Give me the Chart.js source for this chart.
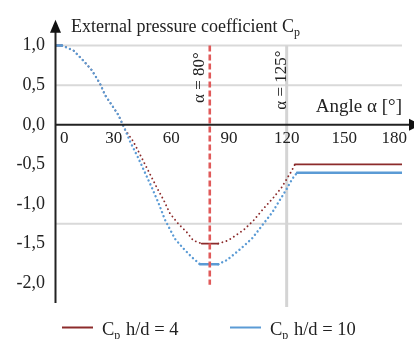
<!DOCTYPE html>
<html><head><meta charset="utf-8">
<script src="https://cdn.jsdelivr.net/npm/chart.js@4.4.0/dist/chart.umd.min.js"></script>
<style>html,body{margin:0;padding:0;background:#fff}canvas{display:block}</style>
</head><body>
<canvas id="c" width="414" height="339"></canvas>
<script>
// ---- data ----
const anglesHd4 = [0, 3.1, 9.0, 14.2, 18.6, 22.9, 25.5, 29.0, 32.4, 35.9, 40.2, 43.7, 48.0, 52.4, 56.2, 59.3, 63.6, 68.0, 71.4, 75.8, 84.4, 89.6, 94.8, 97.5, 102.7, 107.9, 113.1, 117.4, 120.9, 122.6, 124.3, 180];
const cpHd4     = [1.0, 1.0, 0.94, 0.81, 0.69, 0.52, 0.375, 0.25, 0.125, -0.06, -0.21, -0.375, -0.58, -0.79, -0.96, -1.12, -1.25, -1.355, -1.46, -1.50, -1.50, -1.46, -1.375, -1.33, -1.21, -1.06, -0.92, -0.79, -0.65, -0.58, -0.50, -0.50];
const anglesHd10 = [0, 3.1, 9.0, 14.2, 18.6, 22.9, 25.5, 29.0, 32.4, 35.9, 38.5, 42.8, 46.3, 49.8, 53.2, 56.7, 61.9, 66.2, 70.6, 74.9, 84.4, 88.8, 93.1, 96.8, 102.2, 108.2, 112.4, 115.7, 120.0, 123.0, 125.4, 180];
const cpHd10     = [1.0, 1.0, 0.94, 0.81, 0.69, 0.52, 0.375, 0.25, 0.125, -0.06, -0.21, -0.42, -0.605, -0.79, -0.98, -1.20, -1.44, -1.56, -1.67, -1.76, -1.76, -1.71, -1.625, -1.55, -1.43, -1.24, -1.11, -0.98, -0.81, -0.68, -0.605, -0.605];
const seriesNames = ['h/d = 4', 'h/d = 10'];
const yTickValues = [1, 0.5, 0, -0.5, -1, -1.5, -2];
const yTickLabels = ['1,0', '0,5', '0,0', '-0,5', '-1,0', '-1,5', '-2,0'];
const xTickValues = [0, 30, 60, 90, 120, 150, 180];
const xTickLabels = ['0', '30', '60', '90', '120', '150', '180'];
const gridValues = [1, 0.5, -1.25];
const markerAngles = [80, 120];
const markerLabels = ['α = 80°', 'α = 125°'];

const RED = '#8c2b2b', BLUE = '#5b9bd5';
const SERIF = '"Liberation Serif", "Times New Roman", serif';

function segDash(c) { return c.p0.parsed.y === c.p1.parsed.y ? [] : [0.01, 4.3]; }

function drawSubText(ctx, x, y, main, sub, rest, size) {
  ctx.font = size + 'px ' + SERIF;
  ctx.fillText(main, x, y);
  let w = ctx.measureText(main).width;
  ctx.font = Math.round(size * 0.65) + 'px ' + SERIF;
  ctx.fillText(sub, x + w, y + 4);
  w += ctx.measureText(sub).width;
  if (rest) { ctx.font = size + 'px ' + SERIF; ctx.fillText(rest, x + w + 1, y); }
}

const decor = {
  id: 'decor',
  beforeDatasetsDraw(chart) {
    const {ctx, chartArea: a, scales: {x, y}} = chart;
    ctx.save();
    ctx.strokeStyle = '#d9d9d9'; ctx.lineWidth = 2;
    gridValues.forEach(v => {
      const py = y.getPixelForValue(v);
      ctx.beginPath(); ctx.moveTo(a.left, py); ctx.lineTo(a.right, py); ctx.stroke();
    });
    const gx = x.getPixelForValue(markerAngles[1]);
    ctx.strokeStyle = '#d4d4d4'; ctx.lineWidth = 3;
    ctx.beginPath(); ctx.moveTo(gx, y.getPixelForValue(1)); ctx.lineTo(gx, y.getPixelForValue(-2.3)); ctx.stroke();
    ctx.restore();
  },
  afterDatasetsDraw(chart) {
    const {ctx, chartArea: a, scales: {x, y}} = chart;
    ctx.save();
    // red dashed marker
    const rx = x.getPixelForValue(markerAngles[0]);
    ctx.strokeStyle = '#e05a5a'; ctx.lineWidth = 2.6; ctx.setLineDash([6, 3]);
    ctx.beginPath(); ctx.moveTo(rx, y.getPixelForValue(1)); ctx.lineTo(rx, y.getPixelForValue(-2.02)); ctx.stroke();
    ctx.setLineDash([]);
    // axes
    const ax = a.left - 0.5, y0 = y.getPixelForValue(0);
    ctx.strokeStyle = '#222'; ctx.fillStyle = '#111'; ctx.lineWidth = 2;
    ctx.beginPath(); ctx.moveTo(ax, a.top + 10); ctx.lineTo(ax, a.bottom); ctx.stroke();
    ctx.beginPath(); ctx.moveTo(ax - 5.5, a.top + 11); ctx.lineTo(ax + 5.5, a.top + 11); ctx.lineTo(ax, a.top - 2); ctx.closePath(); ctx.fill();
    ctx.beginPath(); ctx.moveTo(ax, y0); ctx.lineTo(412, y0); ctx.stroke();
    ctx.beginPath(); ctx.moveTo(409, y0 - 6); ctx.lineTo(409, y0 + 6); ctx.lineTo(421, y0); ctx.closePath(); ctx.fill();
    // x tick labels
    ctx.fillStyle = '#222'; ctx.font = '17px ' + SERIF; ctx.textBaseline = 'middle';
    xTickValues.forEach((v, i) => {
      let px = x.getPixelForValue(v);
      if (i === 0) { ctx.textAlign = 'left'; px += 4; }
      else if (i === xTickValues.length - 1) { ctx.textAlign = 'right'; px += 5; }
      else ctx.textAlign = 'center';
      ctx.fillText(xTickLabels[i], px, y0 + 13.5);
    });
    // axis titles
    ctx.textBaseline = 'alphabetic'; ctx.textAlign = 'left';
    drawSubText(ctx, 71, 31.5, 'External pressure coefficient C', 'p', '', 18);
    ctx.textAlign = 'right'; ctx.font = '19px ' + SERIF;
    ctx.fillText('Angle α [°]', 402, 112);
    // marker labels (rotated)
    ctx.textAlign = 'center'; ctx.textBaseline = 'middle'; ctx.font = '17px ' + SERIF;
    [[rx - 10, 77.5, markerLabels[0]], [x.getPixelForValue(markerAngles[1]) - 5, 80, markerLabels[1]]].forEach(([cx, cy, t]) => {
      ctx.save(); ctx.translate(cx, cy); ctx.rotate(-Math.PI / 2); ctx.fillText(t, 0, 0); ctx.restore();
    });
    // legend
    const lx = [62, 230];
    ctx.textAlign = 'left'; ctx.textBaseline = 'alphabetic';
    chart.data.datasets.forEach((ds, i) => {
      ctx.strokeStyle = ds.borderColor; ctx.lineWidth = 2;
      ctx.beginPath(); ctx.moveTo(lx[i], 327.5); ctx.lineTo(lx[i] + 31, 327.5); ctx.stroke();
      ctx.fillStyle = '#222';
      drawSubText(ctx, lx[i] + 40, 335, 'C', 'p', ' ' + seriesNames[i], 18.5);
    });
    ctx.restore();
  }
};

new Chart(document.getElementById('c'), {
  type: 'line',
  data: {
    datasets: [
      { label: 'Cp ' + seriesNames[0], data: anglesHd4.map((a, i) => ({x: a, y: cpHd4[i]})), borderColor: RED, borderWidth: 1.9, order: 1, segment: {borderDash: segDash} },
      { label: 'Cp ' + seriesNames[1], data: anglesHd10.map((a, i) => ({x: a, y: cpHd10[i]})), borderColor: BLUE, borderWidth: 2.4, order: 0, segment: {borderDash: segDash} }
    ]
  },
  options: {
    responsive: false, animation: false,
    layout: {padding: {top: 19, right: 12, bottom: 36, left: 0}},
    plugins: {legend: {display: false}, tooltip: {enabled: false}},
    elements: {point: {radius: 0}, line: {tension: 0, borderWidth: 2.3, borderCapStyle: 'round', fill: false}},
    scales: {
      x: {type: 'linear', min: 0, max: 180, position: {y: 0}, grid: {display: false}, border: {display: false}, ticks: {display: false}},
      y: {type: 'linear', min: -2.25, max: 1.3,
        grid: {display: false, drawTicks: false}, border: {display: false},
        afterFit(s) { s.width = 56; },
        afterBuildTicks(s) { s.ticks = yTickValues.map(v => ({value: v})); },
        ticks: {padding: 11, color: '#222', font: {family: SERIF, size: 18},
          callback: v => { const i = yTickValues.indexOf(v); return i >= 0 ? yTickLabels[i] : ''; }}
      }
    }
  },
  plugins: [decor]
});
</script>
</body></html>
